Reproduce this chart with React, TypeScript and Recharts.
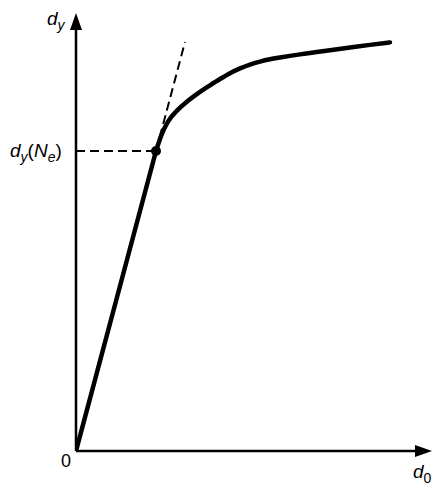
import React from "react";
import {
  ComposedChart,
  Line,
  XAxis,
  YAxis,
  ReferenceLine,
  ReferenceDot,
} from "recharts";

// Schematic curve d_y vs d_0 (arbitrary units, axes span 0..10)
const linearPart = [
  { x: 0, y: 0 },
  { x: 1.12, y: 3.414 },
  { x: 2.247, y: 6.849 },
];

const curvePart = [
  { x: 2.247, y: 6.849 },
  { x: 2.416, y: 7.247 },
  { x: 2.584, y: 7.521 },
  { x: 2.865, y: 7.795 },
  { x: 3.146, y: 7.995 },
  { x: 3.483, y: 8.199 },
  { x: 3.764, y: 8.349 },
  { x: 4.045, y: 8.493 },
  { x: 4.326, y: 8.626 },
  { x: 4.607, y: 8.737 },
  { x: 4.888, y: 8.824 },
  { x: 5.169, y: 8.89 },
  { x: 5.449, y: 8.943 },
  { x: 5.73, y: 8.984 },
  { x: 6.011, y: 9.021 },
  { x: 6.292, y: 9.055 },
  { x: 6.573, y: 9.087 },
  { x: 7.135, y: 9.151 },
  { x: 7.697, y: 9.212 },
  { x: 8.258, y: 9.272 },
  { x: 8.82, y: 9.329 },
];

const elasticPoint = { x: 2.247, y: 6.849 };
const tangentEnd = { x: 3.062, y: 9.338 };
const axisMax = 10;

const yAxisLabel = { main: "d", sub: "y" };
const xAxisLabel = { main: "d", sub: "0" };
const originLabel = "0";
const pointLabel = { main: "d", sub: "y", open: "(", n: "N", nsub: "e", close: ")" };

const FONT = "'Liberation Sans', Arial, sans-serif";

const ArrowAxis = (props: any) => {
  const { x1, y1, x2, y2, dir } = props;
  const len = 17;
  const half = 6;
  let head = "";
  if (dir === "x") {
    head = `${x2},${y2} ${x2 - len},${y2 - half} ${x2 - len},${y2 + half}`;
  } else {
    head = `${x2},${y2} ${x2 - half},${y2 + len} ${x2 + half},${y2 + len}`;
  }
  const lx2 = dir === "x" ? x2 - len + 2 : x2;
  const ly2 = dir === "x" ? y2 : y2 + len - 2;
  return (
    <g>
      <line x1={x1} y1={y1} x2={lx2} y2={ly2} stroke="#000" strokeWidth={2.5} />
      <polygon points={head} fill="#000" />
      {dir === "x" ? (
        <g>
          <text x={x1 - 10} y={y1 + 16} fontFamily={FONT} fontSize={18} textAnchor="middle" fill="#000">
            {originLabel}
          </text>
          <text x={x2 - 19} y={y2 + 27} fontFamily={FONT} fontSize={19} fill="#000">
            <tspan fontStyle="italic">{xAxisLabel.main}</tspan>
            <tspan fontSize={14} dy={5}>{xAxisLabel.sub}</tspan>
          </text>
        </g>
      ) : (
        <text x={x2 - 29} y={y2 + 12} fontFamily={FONT} fontSize={19} fill="#000">
          <tspan fontStyle="italic">{yAxisLabel.main}</tspan>
          <tspan fontSize={14} fontStyle="italic" dy={5}>{yAxisLabel.sub}</tspan>
        </text>
      )}
    </g>
  );
};

const DashedWithLabel = (props: any) => {
  const { x1, y1, x2, y2, withLabel } = props;
  return (
    <g>
      <line x1={x1} y1={y1} x2={x2} y2={y2} stroke="#000" strokeWidth={2} strokeDasharray="9 5" />
      {withLabel ? (
        <text x={x1 - 66} y={y1 + 6} fontFamily={FONT} fontSize={19} fill="#000">
          <tspan fontStyle="italic">{pointLabel.main}</tspan>
          <tspan fontSize={14} fontStyle="italic" dy={5}>{pointLabel.sub}</tspan>
          <tspan dy={-5}>{pointLabel.open}</tspan>
          <tspan fontStyle="italic">{pointLabel.n}</tspan>
          <tspan fontSize={14} fontStyle="italic" dy={5}>{pointLabel.nsub}</tspan>
          <tspan dy={-5}>{pointLabel.close}</tspan>
        </text>
      ) : null}
    </g>
  );
};

export default function App() {
  return (
    <div style={{ position: "absolute", left: 0, top: 0, background: "#fff" }}>
      <ComposedChart
        width={445}
        height={486}
        margin={{ top: 13, left: 76, right: 13, bottom: 35 }}
      >
        <XAxis type="number" dataKey="x" domain={[0, axisMax]} hide allowDataOverflow />
        <YAxis type="number" dataKey="y" domain={[0, axisMax]} hide allowDataOverflow />
        <ReferenceLine
          segment={[{ x: 0, y: 0 }, { x: axisMax, y: 0 }]}
          ifOverflow="visible"
          shape={(p: any) => <ArrowAxis {...p} dir="x" />}
        />
        <ReferenceLine
          segment={[{ x: 0, y: 0 }, { x: 0, y: axisMax }]}
          ifOverflow="visible"
          shape={(p: any) => <ArrowAxis {...p} dir="y" />}
        />
        <ReferenceLine
          segment={[{ x: 0, y: elasticPoint.y }, { x: elasticPoint.x, y: elasticPoint.y }]}
          ifOverflow="visible"
          shape={(p: any) => <DashedWithLabel {...p} withLabel />}
        />
        <ReferenceLine
          segment={[elasticPoint, tangentEnd]}
          ifOverflow="visible"
          shape={(p: any) => <DashedWithLabel {...p} />}
        />
        <Line
          data={linearPart}
          dataKey="y"
          type="linear"
          stroke="#000"
          strokeWidth={4.5}
          dot={false}
          activeDot={false}
          isAnimationActive={false}
        />
        <Line
          data={curvePart}
          dataKey="y"
          type="monotone"
          stroke="#000"
          strokeWidth={4.5}
          strokeLinecap="round"
          dot={false}
          activeDot={false}
          isAnimationActive={false}
        />
        <ReferenceDot
          x={elasticPoint.x}
          y={elasticPoint.y}
          r={5}
          fill="#000"
          stroke="none"
          ifOverflow="visible"
        />
      </ComposedChart>
    </div>
  );
}
